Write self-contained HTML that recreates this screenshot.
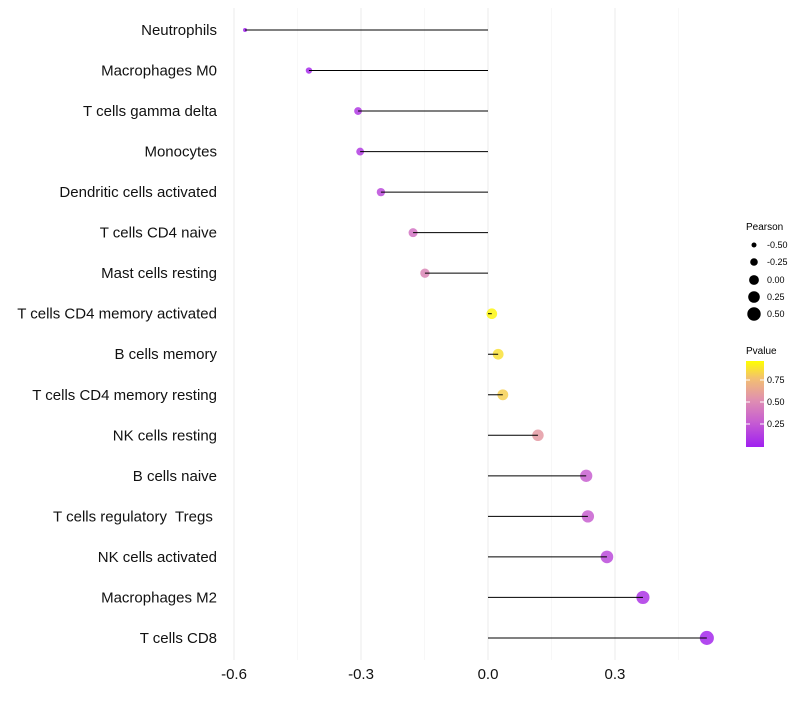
<!DOCTYPE html>
<html><head><meta charset="utf-8"><style>
body{margin:0;background:#fff;font-family:"Liberation Sans",sans-serif}
svg text{font-family:"Liberation Sans",sans-serif;white-space:pre}
</style></head><body>
<svg id="chart" width="800" height="700">
<defs><linearGradient id="pg" x1="0" y1="1" x2="0" y2="0">
<stop offset="0" stop-color="#a020f0"/><stop offset="0.3" stop-color="#c860d0"/><stop offset="0.55" stop-color="#e090b0"/><stop offset="0.8" stop-color="#f3c070"/><stop offset="1" stop-color="#ffff00"/></linearGradient></defs>
<g id="grid"></g><g id="marks"></g><g id="labels"></g>
<g font-size="9">
<text x="746" y="230" font-size="10">Pearson</text>
<circle cx="754" cy="245" r="2.5" fill="#000"/><text x="767" y="248">-0.50</text>
<circle cx="754" cy="262" r="3.8" fill="#000"/><text x="767" y="265">-0.25</text>
<circle cx="754" cy="280" r="4.9" fill="#000"/><text x="767" y="283">0.00</text>
<circle cx="754" cy="297" r="5.8" fill="#000"/><text x="767" y="300">0.25</text>
<circle cx="754" cy="314" r="6.7" fill="#000"/><text x="767" y="317">0.50</text>
</g>
<g font-size="9">
<text x="746" y="354" font-size="10">Pvalue</text>
<rect x="746" y="361" width="18" height="86" fill="url(#pg)"/>
<line x1="746" x2="750" y1="380" y2="380" stroke="#fff"/><line x1="760" x2="764" y1="380" y2="380" stroke="#fff"/>
<line x1="746" x2="750" y1="402" y2="402" stroke="#fff"/><line x1="760" x2="764" y1="402" y2="402" stroke="#fff"/>
<line x1="746" x2="750" y1="424" y2="424" stroke="#fff"/><line x1="760" x2="764" y1="424" y2="424" stroke="#fff"/>
<text x="767" y="383">0.75</text>
<text x="767" y="405">0.50</text>
<text x="767" y="427">0.25</text>
</g>
</svg>
<script>
const categories=["Neutrophils","Macrophages M0","T cells gamma delta","Monocytes","Dendritic cells activated","T cells CD4 naive","Mast cells resting","T cells CD4 memory activated","B cells memory","T cells CD4 memory resting","NK cells resting","B cells naive","T cells regulatory  Tregs ","NK cells activated","Macrophages M2","T cells CD8"];
const pearson=[-0.574,-0.423,-0.307,-0.302,-0.253,-0.177,-0.149,0.009,0.024,0.035,0.118,0.232,0.236,0.281,0.366,0.517];
const pvalues=[0.01,0.05,0.12,0.13,0.2,0.4,0.5,0.97,0.9,0.85,0.6,0.3,0.3,0.2,0.1,0.04];
const majorTicks=[-0.6,-0.3,0.0,0.3];
const tickLabels=["-0.6","-0.3","0.0","0.3"];
const minorTicks=[-0.45,-0.15,0.15,0.45];
const NS="http://www.w3.org/2000/svg";
const x=v=>488+v*423.3;
const y=i=>30+i*40.53;
const r=v=>Math.sqrt(Math.max(4,28+42*v));
function lerp(a,b,t){return a.map((c,k)=>Math.round(c+(b[k]-c)*t));}
const stops=[[0,[160,32,240]],[0.3,[200,96,208]],[0.55,[224,144,176]],[0.8,[243,192,112]],[1,[255,255,0]]];
function col(p){for(let k=1;k<stops.length;k++){if(p<=stops[k][0]){const t=(p-stops[k-1][0])/(stops[k][0]-stops[k-1][0]);return "rgb("+lerp(stops[k-1][1],stops[k][1],t).join(",")+")";}}return "rgb(255,255,0)";}
function mk(t,a,par){const e=document.createElementNS(NS,t);for(const k in a)e.setAttribute(k,a[k]);par.appendChild(e);return e;}
const grid=document.getElementById('grid'),marks=document.getElementById('marks'),labels=document.getElementById('labels');
minorTicks.forEach(v=>{const l=mk('line',{x1:x(v),x2:x(v),y1:8,y2:660,stroke:'#f2f2f2','stroke-width':0.6},grid);

});
majorTicks.forEach((v,i)=>{const l=mk('line',{x1:x(v),x2:x(v),y1:8,y2:660,stroke:'#ebebeb','stroke-width':1},grid);


const t=mk('text',{x:x(v),y:679,'text-anchor':'middle','font-size':15,fill:'#111'},labels);t.textContent=tickLabels[i];

});
categories.forEach((c,i)=>{
const t=mk('text',{x:217,y:y(i)+5,'text-anchor':'end','font-size':15,fill:'#111'},labels);t.textContent=c;


const ci=mk('circle',{cx:x(pearson[i]),cy:y(i),r:r(pearson[i]),fill:col(pvalues[i]),'fill-opacity':0.85},marks);


const l=mk('line',{x1:x(0),x2:x(pearson[i]),y1:y(i),y2:y(i),stroke:'#000','stroke-width':1},marks);


});
</script>
</body></html>
